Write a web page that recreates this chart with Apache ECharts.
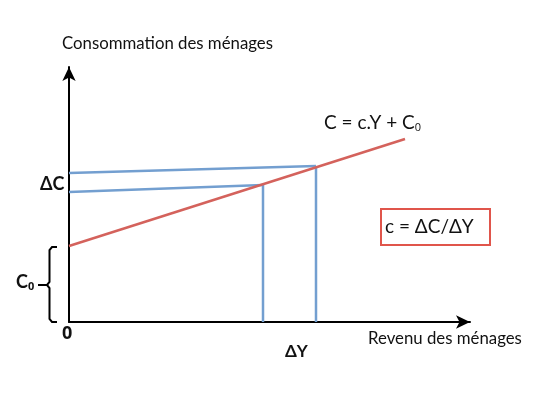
<!DOCTYPE html>
<html>
<head>
<meta charset="utf-8">
<script src="https://cdn.jsdelivr.net/npm/echarts@6/dist/echarts.min.js"></script>
<style>html,body{margin:0;padding:0;background:#fff}#c{width:536px;height:414px}</style>
</head>
<body>
<div id="c"></div>
<script>
// axis ranges (abstract units)
const xRange = [0, 401];
const yRange = [0, 255];
// consumption function C = c.Y + C0
const consumptionLine = [[0, 76], [336, 183]];
// guide lines (from the picture, slightly tilted as drawn)
const guideLowH = [[0, 130], [194, 137]];
const guideLowV = [[194, 0], [194, 137]];
const guideHighH = [[0, 149], [247, 156]];
const guideHighV = [[247, 0], [247, 156]];
// texts
const yTitle = 'Consommation des ménages';
const xTitle = 'Revenu des ménages';

const FONT = 'Lato, "Open Sans", sans-serif';
const SUB = '"Open Sans", sans-serif';
const RED = '#d4625c';
const BLUE = '#739fd0';

function seg(data, color) {
  return { type: 'line', data: data, symbol: 'none', silent: true,
    lineStyle: { color: color, width: 2.5 }, z: 3 };
}

const chart = echarts.init(document.getElementById('c'), null, { renderer: 'canvas' });
chart.setOption({
  animation: false,
  grid: { left: 69, right: 66, top: 67, bottom: 92 },
  xAxis: {
    type: 'value', min: xRange[0], max: xRange[1],
    splitLine: { show: false }, axisTick: { show: false }, axisLabel: { show: false },
    axisLine: { onZero: false, symbol: ['none', 'arrow'], symbolSize: [10, 14],
      lineStyle: { color: '#000', width: 2 } }
  },
  yAxis: {
    type: 'value', min: yRange[0], max: yRange[1],
    splitLine: { show: false }, axisTick: { show: false }, axisLabel: { show: false },
    axisLine: { onZero: false, symbol: ['none', 'arrow'], symbolSize: [10, 14],
      lineStyle: { color: '#000', width: 2 } }
  },
  series: [
    seg(guideLowH, BLUE), seg(guideLowV, BLUE),
    seg(guideHighH, BLUE), seg(guideHighV, BLUE),
    Object.assign(seg(consumptionLine, RED), { z: 4 })
  ],
  graphic: [
    { type: 'text', left: 62, top: 35, style: { text: yTitle, font: '16.8px ' + FONT, fill: '#111' } },
    { type: 'text', left: 368, top: 330, style: { text: xTitle, font: '16.8px ' + FONT, fill: '#111' } },
    { type: 'text', left: 62, top: 325, style: { text: '0', font: 'bold 18px ' + SUB, fill: '#111' } },
    { type: 'text', left: 285, top: 343, style: { text: 'ΔY', font: 'bold 17px ' + FONT, fill: '#111' } },
    { type: 'text', left: 40, top: 175, style: { text: 'ΔC', font: 'bold 18px ' + FONT, fill: '#111' } },
    { type: 'text', left: 16, top: 273, style: {
        rich: { a: { font: 'bold 18px ' + FONT, fill: '#111' }, s: { font: 'bold 11px ' + SUB, fill: '#111', padding: [10, 0, 0, 0] } },
        text: '{a|C}{s|0}' } },
    { type: 'text', left: 324, top: 113, style: {
        rich: { a: { font: '19px ' + FONT, fill: '#111' }, s: { font: '11px ' + SUB, fill: '#111', padding: [11, 0, 0, 0] } },
        text: '{a|C = c.Y + C}{s|0}' } },
    { type: 'rect', shape: { x: 381, y: 209, width: 109, height: 36 },
      style: { fill: '#fff', stroke: '#e0554b', lineWidth: 2 } },
    { type: 'text', left: 385, top: 217, style: { text: 'c = ΔC/ΔY', font: '19px ' + FONT, fill: '#111' } },
    { type: 'polyline', shape: { points: [[57, 247], [52, 247], [49.5, 250], [49.5, 282], [47, 285], [38, 285]] },
      style: { stroke: '#000', lineWidth: 2, fill: null } },
    { type: 'polyline', shape: { points: [[47, 285], [49.5, 288], [49.5, 319], [52, 322], [57, 322]] },
      style: { stroke: '#000', lineWidth: 2, fill: null } }
  ]
});
</script>
</body>
</html>
